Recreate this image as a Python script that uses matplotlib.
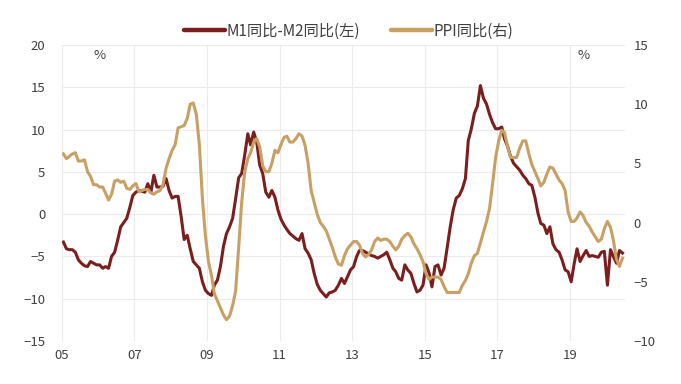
import matplotlib
matplotlib.use("Agg")
import matplotlib.pyplot as plt
import matplotlib.dates as mdates
import pandas as pd

plt.rcParams['font.family'] = ['Noto Sans CJK SC', 'DejaVu Sans']

# monthly data, 2005-01 .. 2020-06
m1_m2 = [
    -3.3, -4.1, -4.2, -4.2, -4.5, -5.4, -5.8, -6.1, -6.2, -5.6, -5.8, -6.0,   # 2005
    -6.0, -6.4, -6.2, -6.4, -5.0, -4.5, -3.1, -1.5, -1.0, -0.5, 0.8, 2.2,     # 2006
    2.6, 2.8, 2.7, 2.6, 3.6, 2.6, 4.6, 3.2, 3.2, 3.3, 4.2, 2.8,               # 2007
    1.9, 2.1, 2.1, -0.3, -3.0, -2.5, -4.1, -5.6, -6.0, -6.4, -8.0, -9.0,      # 2008
    -9.4, -9.6, -8.4, -7.8, -6.2, -3.8, -2.3, -1.5, -0.5, 1.8, 4.3, 4.8,      # 2009
    7.0, 9.5, 8.2, 9.7, 8.6, 5.8, 4.8, 2.6, 2.0, 2.8, 2.0, 0.5,               # 2010
    -0.6, -1.3, -1.8, -2.3, -2.6, -2.9, -3.1, -2.3, -4.1, -4.6, -5.4, -7.0,   # 2011
    -8.3, -9.0, -9.4, -9.8, -9.3, -9.2, -9.0, -8.4, -7.6, -8.2, -7.4, -6.6,   # 2012
    -6.2, -5.0, -4.3, -4.3, -4.5, -4.7, -4.9, -5.0, -5.2, -5.0, -4.8, -4.5,   # 2013
    -5.4, -6.4, -6.8, -7.6, -7.8, -6.0, -6.6, -7.0, -8.2, -9.2, -9.0, -8.4,   # 2014
    -6.0, -7.0, -8.6, -6.2, -6.0, -7.2, -6.4, -4.0, -1.5, 0.5, 1.9, 2.2,      # 2015
    3.0, 4.2, 8.7, 10.1, 11.9, 12.8, 15.2, 13.7, 13.0, 11.8, 10.8, 10.1,      # 2016
    10.1, 10.3, 8.9, 8.0, 6.8, 6.0, 5.6, 5.2, 4.6, 4.2, 3.6, 3.4,             # 2017
    2.0, 0.1, -1.1, -1.3, -2.3, -1.5, -3.5, -4.2, -4.5, -5.4, -6.6, -6.8,     # 2018
    -8.0, -5.8, -4.1, -5.6, -4.9, -4.3, -5.0, -4.9, -5.0, -5.1, -4.5, -4.4,   # 2019
    -8.4, -4.2, -5.0, -5.8, -4.3, -4.6,                                       # 2020
]

ppi = [
    5.8, 5.4, 5.6, 5.8, 5.9, 5.2, 5.2, 5.3, 4.3, 3.9, 3.2, 3.2,
    3.0, 3.0, 2.5, 1.9, 2.4, 3.5, 3.6, 3.4, 3.5, 2.9, 2.8, 3.1,
    3.3, 2.6, 2.7, 2.8, 2.8, 2.5, 2.4, 2.6, 2.7, 3.2, 4.6, 5.4,
    6.1, 6.6, 8.0, 8.1, 8.2, 8.8, 10.0, 10.1, 9.1, 6.6, 2.0, -1.1,
    -3.3, -4.5, -6.0, -6.6, -7.2, -7.8, -8.2, -7.9, -7.0, -5.8, -2.1, 1.7,
    4.3, 5.4, 5.9, 6.8, 7.1, 6.4, 4.8, 4.3, 4.3, 5.0, 6.1, 5.9,
    6.6, 7.2, 7.3, 6.8, 6.8, 7.1, 7.5, 7.3, 6.5, 5.0, 2.7, 1.7,
    0.7, 0.0, -0.3, -0.7, -1.4, -2.1, -2.9, -3.5, -3.6, -2.8, -2.2, -1.9,
    -1.6, -1.6, -1.9, -2.6, -2.9, -2.7, -2.3, -1.6, -1.3, -1.5, -1.4, -1.4,
    -1.6, -2.0, -2.3, -2.0, -1.4, -1.1, -0.9, -1.2, -1.8, -2.2, -2.7, -3.3,
    -4.3, -4.8, -4.6, -4.6, -4.6, -4.8, -5.4, -5.9, -5.9, -5.9, -5.9, -5.9,
    -5.3, -4.9, -4.3, -3.4, -2.8, -2.6, -1.7, -0.8, 0.1, 1.2, 3.3, 5.5,
    6.9, 7.8, 7.6, 6.4, 5.5, 5.5, 5.5, 6.3, 6.9, 6.9, 5.8, 4.9,
    4.3, 3.7, 3.1, 3.4, 4.1, 4.7, 4.6, 4.1, 3.6, 3.3, 2.7, 0.9,
    0.1, 0.1, 0.4, 0.9, 0.6, 0.0, -0.3, -0.8, -1.2, -1.6, -1.4, -0.5,
    0.1, -0.4, -1.5, -3.1, -3.7, -3.0,
]

dates = pd.date_range('2005-01-01', periods=len(ppi), freq='MS') + pd.Timedelta(days=14)
left_ticks = [20, 15, 10, 5, 0, -5, -10, -15]
right_ticks = [15, 10, 5, 0, -5, -10]
year_ticks = pd.to_datetime([f'{y}-01-01' for y in range(2005, 2021, 2)])

red = '#7b1e1e'
tan = '#c8a064'
txt = '#404040'

fig = plt.figure(figsize=(6.81, 3.84), dpi=100)
ax = fig.add_axes([62 / 681, 43 / 384, 563 / 681, 296 / 384])
ax2 = ax.twinx()  # drawn above ax, so PPI sits on top of the red line

l1, = ax.plot(dates, m1_m2, color=red, lw=2.2)
l2, = ax2.plot(dates, ppi, color=tan, lw=2.2)

ax.set_ylim(-15, 20)
ax.set_yticks(left_ticks)
ax2.set_ylim(-10, 15)
ax2.set_yticks(right_ticks)
ax.set_xlim(pd.Timestamp('2005-01-01'), pd.Timestamp('2020-07-10'))
ax.set_xticks(year_ticks)
ax.xaxis.set_major_formatter(mdates.DateFormatter('%y'))

ax.grid(True, color='#ebebeb', lw=0.8)
for a in (ax, ax2):
    for s in a.spines.values():
        s.set_visible(False)
ax.tick_params(axis='y', length=0, pad=12, labelsize=9.5, labelcolor=txt)
ax.tick_params(axis='x', length=0, pad=6, labelsize=9.5, labelcolor=txt)
ax2.tick_params(axis='y', length=0, pad=6, labelsize=9.5, labelcolor=txt)

ax.text(0.066, 0.985, '%', transform=ax.transAxes, ha='center', va='top', fontsize=9.5, color=txt)
ax.text(0.927, 0.985, '%', transform=ax.transAxes, ha='center', va='top', fontsize=9.5, color=txt)

leg = fig.legend([l1, l2], ['M1同比-M2同比(左)', 'PPI同比(右)'], loc='center',
                 bbox_to_anchor=(0.512, 1 - 31 / 384), ncol=2, frameon=False, fontsize=11,
                 handlelength=2.7, columnspacing=2.0, handletextpad=0.1, labelcolor=txt)
for h in leg.legend_handles:
    h.set_linewidth(3.2)
    h.set_solid_capstyle('round')

fig.savefig('out.png', dpi=100)
